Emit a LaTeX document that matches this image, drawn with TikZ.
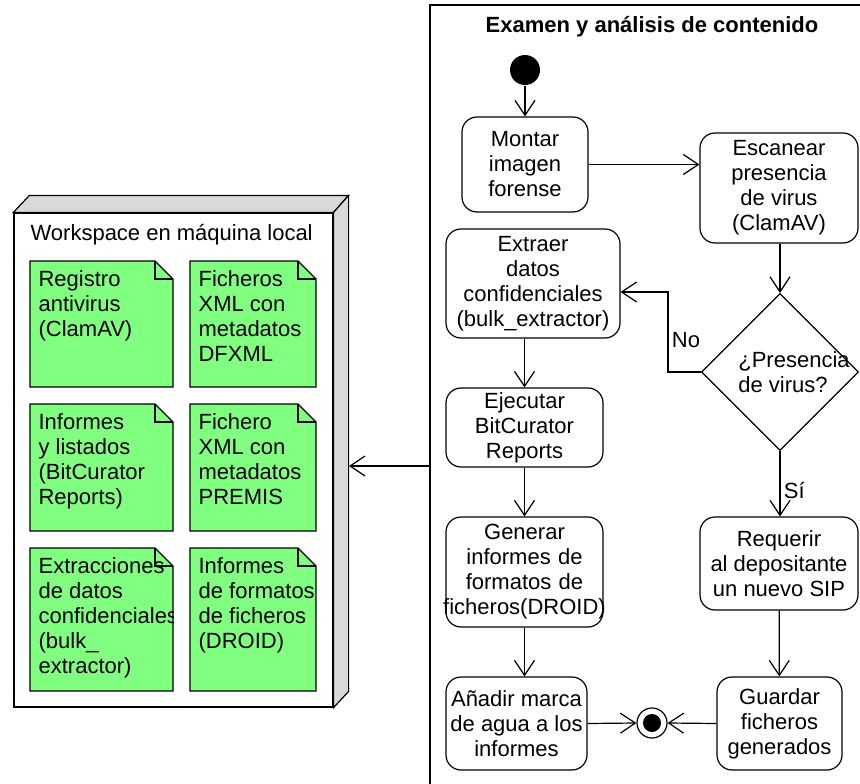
\documentclass[tikz,border=0pt]{standalone}
\usepackage{fontspec}
\setmainfont{Liberation Sans}
\usetikzlibrary{arrows.meta,shapes.geometric}
\definecolor{notegreen}{RGB}{128,255,128}
\definecolor{sidegray}{RGB}{217,217,217}

\begin{document}
\begin{tikzpicture}[x=1pt,y=-1pt,line width=1.2pt,
        every node/.style={font=\fontsize{22}{25}\selectfont},
        action/.style={draw,rounded corners=15pt,align=center,inner sep=2pt},
        startnode/.style={circle,fill=black,minimum size=30pt,inner sep=0pt},
        endnode/.style={circle,draw,minimum size=30pt,inner sep=0pt,
                path picture={\fill (path picture bounding box.center) circle (9pt);}},
        decision/.style={diamond,draw,minimum width=157pt,minimum height=157pt,inner sep=0pt},
        flow/.style={-{Straight Barb[length=15pt,width=20pt]}},
        notebody/.style={draw,fill=notegreen,line join=miter},
        notetext/.style={anchor=north west,align=left,inner sep=0pt}]
        \useasboundingbox (0,0) rectangle (860,784);

        % carril de la actividad
        \coordinate (lanecorner) at (430,5);
        \draw (lanecorner) ++(0,779) -- (lanecorner) -- ++(430,0);
        \node[font=\bfseries\fontsize{22}{25}\selectfont] (lanetitle) at (652,27) {Examen y análisis de contenido};

        % nodo de despliegue
        \node[draw,minimum width=319pt,minimum height=494pt,inner sep=0pt] (workspace) at (173.5,460) {};
        \draw[fill=sidegray] (workspace.north west) -- ++(16,-17) -- ++(319,0) -- (workspace.north east) -- cycle;
        \draw[fill=sidegray] (workspace.north east) -- ++(15,-17) -- ++(0,496) -- (workspace.south east) -- cycle;
        \node[anchor=west,inner sep=0pt] (wstitle) at (30,235) {Workspace en máquina local};

        % artefactos
        \foreach \nm/\x/\y/\w/\h/\txt in {
                regnote/30/261/143/126/{Registro\\antivirus\\(ClamAV)},
                dfxmlnote/190/261/126/126/{Ficheros\\XML con\\metadatos\\DFXML},
                repnote/30/404/143/127/{Informes\\y listados\\(BitCurator\\Reports)},
                premisnote/190/404/126/127/{Fichero\\XML con\\metadatos\\PREMIS},
                bulknote/30/548/143/143/{Extracciones\\de datos\\confidenciales\\(bulk\_\\extractor)},
                droidnote/190/548/126/143/{Informes\\de formatos\\de ficheros\\(DROID)}} {
                \draw[notebody] (\x,\y) -- ++(\w-18,0) -- ++(18,18) -- ++(0,\h-18) -- ++(-\w,0) -- cycle;
                \begin{scope}
                        \clip (\x,\y) rectangle ++(\w,\h);
                        \node[notetext] (\nm) at (\x+8,\y+9) {\txt};
                \end{scope}
                \draw (\x+\w-18,\y) -- ++(0,18) -- ++(18,0);
        }

        % acciones
        \node[startnode] (start) at (525,70) {};
        \node[action,minimum width=126pt,minimum height=95pt] (montar) at (525,164.5) {Montar\\imagen\\forense};
        \node[action,minimum width=158pt,minimum height=110pt] (escanear) at (779,188) {Escanear\\presencia\\de virus\\(ClamAV)};
        \node[decision,label={[align=left,xshift=14pt]center:¿Presencia\\de virus?}] (virus) at (780,372) {};
        \node[action,minimum width=174pt,minimum height=109pt] (extraer) at (533,283.5) {Extraer\\datos\\confidenciales\\(bulk\_extractor)};
        \node[action,minimum width=157pt,minimum height=79pt] (ejecutar) at (524.5,427.5) {Ejecutar\\BitCurator\\Reports};
        \node[action,text width=153pt,minimum height=110pt] (generar) at (524.5,572) {Generar\\informes de\\formatos de\\\makebox[153pt]{ficheros(DROID)}};
        \node[action,minimum width=141pt,minimum height=93pt] (anadir) at (516.5,723.5) {Añadir marca\\de agua a los\\informes};
        \node[action,minimum width=158pt,minimum height=93pt] (requerir) at (779,563.5) {Requerir\\al depositante\\un nuevo SIP};
        \node[action,minimum width=125pt,minimum height=93pt] (guardar) at (779.5,723.5) {Guardar\\ficheros\\generados};
        \node[endnode] (final) at (652,723) {};

        % flujos
        \draw[flow] (start) -- (montar);
        \draw[flow] (montar.east) -- (montar.east -| escanear.west);
        \draw[flow] (escanear.south -| virus.north) -- (virus.north);
        \coordinate (nobend) at (668,292);
        \draw[flow] (virus.west) -| node[right,pos=0.7] {No} (nobend) -- (extraer.east |- nobend);
        \draw[flow] (virus.south) -- node[right,pos=0.6] {Sí} (virus.south |- requerir.north);
        \draw[flow] (extraer.south -| ejecutar.north) -- (ejecutar.north);
        \draw[flow] (ejecutar) -- (generar);
        \draw[flow] (generar.south) -- (generar.south |- anadir.north);
        \draw[flow] (requerir) -- (guardar);
        \draw[flow] (anadir.east) -- (final.west);
        \draw[flow] (guardar.west) -- (final.east);
        \coordinate (wsside) at (349,466);
        \draw[flow] (wsside -| lanecorner) -- (wsside);
\end{tikzpicture}
\end{document}
